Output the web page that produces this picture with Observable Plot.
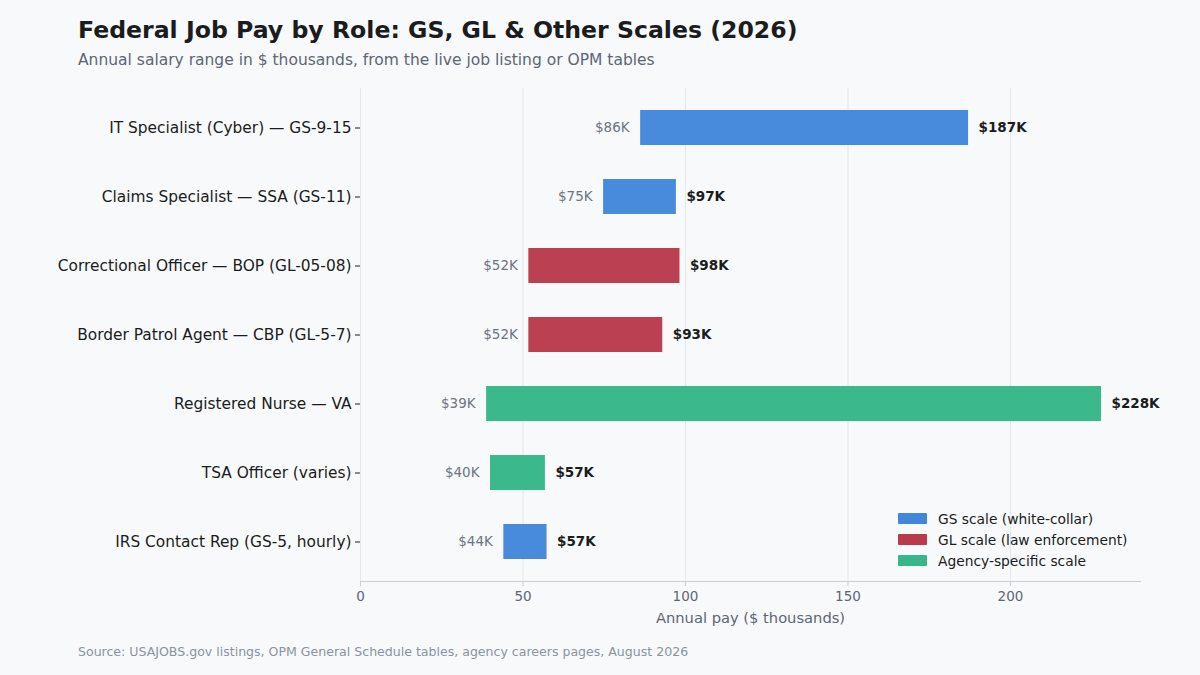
<!DOCTYPE html>
<html>
<head>
<meta charset="utf-8">
<script src="https://cdn.jsdelivr.net/npm/d3@7"></script>
<script src="https://cdn.jsdelivr.net/npm/@observablehq/plot@0.6"></script>
<style>
  html, body { margin: 0; padding: 0; background: #f8f9fb; }
  body { width: 1200px; height: 675px; position: relative; overflow: hidden; font-family: "DejaVu Sans", sans-serif; }
  #title { position: absolute; left: 78px; top: 16px; font-size: 23.6px; font-weight: bold; color: #1a1c20; white-space: nowrap; }
  #subtitle { position: absolute; left: 78px; top: 51px; font-size: 15.5px; color: #5d6673; white-space: nowrap; }
  #chart { position: absolute; left: 0; top: 78px; }
  #caption { position: absolute; left: 78px; top: 644px; font-size: 12.55px; color: #8a939e; white-space: nowrap; }
  #legend { position: absolute; left: 898px; top: 508px; font-size: 13.8px; color: #1a1c20; }
  .li { display: flex; align-items: center; height: 21px; }
  .sw { width: 29px; height: 11px; margin-right: 11px; border-radius: 1px; }
</style>
</head>
<body>
<div id="title">Federal Job Pay by Role: GS, GL &amp; Other Scales (2026)</div>
<div id="subtitle">Annual salary range in $ thousands, from the live job listing or OPM tables</div>
<div id="chart"></div>
<div id="legend"></div>
<div id="caption">Source: USAJOBS.gov listings, OPM General Schedule tables, agency careers pages, August 2026</div>
<script>
const roles = [
  "IT Specialist (Cyber) — GS-9-15",
  "Claims Specialist — SSA (GS-11)",
  "Correctional Officer — BOP (GL-05-08)",
  "Border Patrol Agent — CBP (GL-5-7)",
  "Registered Nurse — VA",
  "TSA Officer (varies)",
  "IRS Contact Rep (GS-5, hourly)"
];
const payMin = [86.2, 74.8, 51.8, 51.8, 38.8, 40.0, 44.1];
const payMax = [187.1, 97.2, 98.3, 93.0, 228.0, 56.9, 57.4];
const scales = ["GS", "GS", "GL", "GL", "Agency", "Agency", "GS"];
const scaleNames = ["GS scale (white-collar)", "GL scale (law enforcement)", "Agency-specific scale"];
const scaleKeys = ["GS", "GL", "Agency"];
const scaleColors = ["#4286db", "#b93a4b", "#36b788"];
const xTicks = [0, 50, 100, 150, 200];
const xLabel = "Annual pay ($ thousands)";

const data = roles.map((r, i) => ({role: r, lo: payMin[i], hi: payMax[i], scale: scales[i]}));

const chart = Plot.plot({
  width: 1200,
  height: 560,
  marginLeft: 360,
  marginRight: 60,
  marginTop: 10,
  marginBottom: 57,
  style: {background: "transparent", fontFamily: "DejaVu Sans, sans-serif", overflow: "visible"},
  x: {domain: [0, 240], ticks: xTicks, label: null},
  y: {domain: roles, label: null, paddingInner: 0.5, paddingOuter: 0.32},
  color: {domain: scaleKeys, range: scaleColors},
  marks: [
    Plot.gridX(xTicks, {stroke: "#e3e6eb", strokeOpacity: 1, strokeWidth: 1}),
    Plot.barX(data, {y: "role", x1: "lo", x2: "hi", fill: "scale", fillOpacity: 0.97}),
    Plot.text(data, {y: "role", x: "lo", text: d => `$${Math.round(d.lo)}K`, textAnchor: "end", dx: -11, fill: "#6b7480", fontSize: 13.5}),
    Plot.text(data, {y: "role", x: "hi", text: d => `$${Math.round(d.hi)}K`, textAnchor: "start", dx: 10, fill: "#1a1c20", fontSize: 13.5, fontWeight: "bold"}),
    Plot.frame({anchor: "bottom", stroke: "#c9ced6", strokeWidth: 1}),
    Plot.axisX({ticks: xTicks, tickSize: 5, stroke: "#c9ced6", fill: "#5d6673", fontSize: 13.5, tickPadding: 5, label: null}),
    Plot.text([xLabel], {frameAnchor: "bottom", dy: 41, fill: "#5d6673", fontSize: 14.7}),
    Plot.axisY({tickSize: 5, tickPadding: 4, fill: "#1a1c20", fontSize: 15.4, label: null, stroke: "#1a1c20"})
  ]
});
document.getElementById("chart").appendChild(chart);

const legend = document.getElementById("legend");
scaleNames.forEach((n, i) => {
  const row = document.createElement("div");
  row.className = "li";
  row.innerHTML = `<div class="sw" style="background:${scaleColors[i]}"></div><span>${n}</span>`;
  legend.appendChild(row);
});
</script>
</body>
</html>
